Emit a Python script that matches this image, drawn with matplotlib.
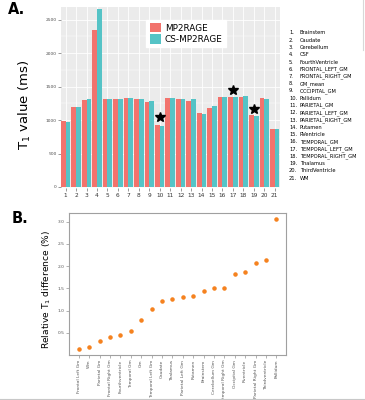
import numpy as np
import matplotlib
matplotlib.use("Agg")
import matplotlib.pyplot as plt
from matplotlib.lines import Line2D

# ── data ────────────────────────────────────────────────────────────────────
regions = ["Brainstem", "Caudate", "Cerebellum", "CSF", "FourthVentricle",
           "FRONTAL_LEFT_GM", "FRONTAL_RIGHT_GM", "GM_mean", "OCCIPITAL_GM",
           "Pallidum", "PARIETAL_GM", "PARIETAL_LEFT_GM", "PARIETAL_RIGHT_GM",
           "Putamen", "RVentricle", "TEMPORAL_GM", "TEMPORAL_LEFT_GM",
           "TEMPORAL_RIGHT_GM", "Thalamus", "ThirdVentricle", "WM"]
t1_mp2rage = [980, 1200, 1300, 2350, 1320, 1320, 1330, 1310, 1270, 930, 1325,
              1320, 1290, 1105, 1185, 1340, 1350, 1342, 1070, 1331, 871]
t1_cs = [965, 1190, 1320, 2658, 1320, 1320, 1335, 1310, 1290, 905, 1330,
         1310, 1310, 1090, 1205, 1345, 1340, 1361, 1055, 1308, 865]
star_idx = [10, 17, 19]
star_val = [1040, 1455, 1173]

diff_labels = ["Frontal Left Gm", "Wm", "Parietal Gm", "Frontal Right Gm",
               "Fourthventricle", "Temporal Gm", "Gm", "Temporal Left Gm",
               "Caudate", "Thalamus", "Parietal Left Gm", "Putamen",
               "Brainstem", "Cerebellum Gm", "Temporal Right Gm",
               "Occipital Gm", "Rventricle", "Parietal Right Gm",
               "Thirdventricle", "Pallidum"]
diff_vals = [0.15, 0.18, 0.32, 0.40, 0.45, 0.55, 0.79, 1.03, 1.22, 1.26,
             1.30, 1.33, 1.45, 1.50, 1.51, 1.82, 1.87, 2.07, 2.13, 3.05]

# ── figure ───────────────────────────────────────────────────────────────────
fig = plt.figure(figsize=(3.65, 4.0), dpi=100)

# panel A: ggplot-like grouped bars
axA = fig.add_axes([0.167, 0.53, 0.600, 0.4525])
axA.set_facecolor("#EBEBEB")
x = np.arange(1, len(regions) + 1)
w = 0.45
axA.bar(x - w / 2, t1_mp2rage, w, color="#F2736D", label="MP2RAGE", zorder=2)
axA.bar(x + w / 2, t1_cs, w, color="#55C3C6", label="CS-MP2RAGE", zorder=2)
axA.plot(star_idx, star_val, ls="none", marker="*", color="black", ms=7, zorder=3)

axA.set_xlim(0.55, 21.5)
axA.set_ylim(-15, 2690)
axA.set_yticks(np.arange(0, 2501, 500))
axA.set_yticks(np.arange(250, 2700, 500), minor=True)
axA.set_xticks(x)
axA.grid(True, which="major", axis="y", color="white", lw=0.6, zorder=1)
axA.grid(True, which="minor", axis="y", color="white", lw=0.3, zorder=1)
axA.grid(True, which="major", axis="x", color="white", lw=0.6, zorder=1)
for s in axA.spines.values():
    s.set_visible(False)
axA.tick_params(axis="y", labelsize=3.2, labelcolor="#4D4D4D", color="#4D4D4D",
                length=2, width=0.4, pad=1)
axA.tick_params(axis="y", which="minor", length=0)
axA.tick_params(axis="x", labelsize=4.2, labelcolor="#333333", color="#4D4D4D",
                length=2, width=0.4, pad=1.5)
fig.text(25 / 365, 1 - 105 / 400, "T$_1$ value (ms)", fontsize=9.5,
         rotation=90, ha="center", va="center")
axA.legend(loc="upper left", bbox_to_anchor=(0.37, 0.955), fontsize=6.4,
           frameon=True, fancybox=False, edgecolor="white", facecolor="white",
           framealpha=1, handlelength=1.3, handleheight=1.3, handletextpad=0.4,
           borderpad=0.35, labelspacing=0.2)

# region list beside panel A
for i, name in enumerate(regions):
    yy = 1 - (33 + i * 7.25) / 400
    fig.text(289 / 365, yy, f"{i + 1}.", fontsize=3.7, va="center", ha="left")
    fig.text(300 / 365, yy, name, fontsize=3.7, va="center", ha="left")

# panel B: sorted relative difference
axB = fig.add_axes([0.189, 0.1125, 0.595, 0.355])
xb = np.arange(len(diff_labels))
axB.scatter(xb, diff_vals, s=5, color="#F5821F", zorder=3)
axB.set_xlim(-0.95, 19.95)
axB.set_ylim(0.005, 3.195)
axB.set_yticks([0.5, 1.0, 1.5, 2.0, 2.5, 3.0])
axB.set_xticks(xb)
axB.set_xticklabels(diff_labels, rotation=90)
for s in axB.spines.values():
    s.set_color("#A0A0A0")
    s.set_linewidth(0.8)
axB.tick_params(axis="y", labelsize=3.2, labelcolor="#555555", color="#777777",
                length=2, width=0.4, pad=1)
axB.tick_params(axis="x", labelsize=3.2, labelcolor="#555555", color="#777777",
                length=2, width=0.4, pad=1.5)
fig.text(47 / 365, 1 - 290 / 400, "Relative T$_1$ difference (%)", fontsize=6.6,
         rotation=90, ha="center", va="center")

# panel letters
fig.text(8 / 365, 1 - 10 / 400, "A.", fontsize=10.5, fontweight="bold", va="center")
fig.text(12 / 365, 1 - 218 / 400, "B.", fontsize=10.5, fontweight="bold", va="center")

# faint frame artefacts from the source image
fig.add_artist(Line2D([0, 1], [0.003, 0.003], color="#C8C8C8", lw=0.8))
fig.add_artist(Line2D([363 / 365, 363 / 365], [1, 1 - 50 / 400], color="#D8D8D8", lw=0.8))

fig.savefig("out.png", dpi=100)
